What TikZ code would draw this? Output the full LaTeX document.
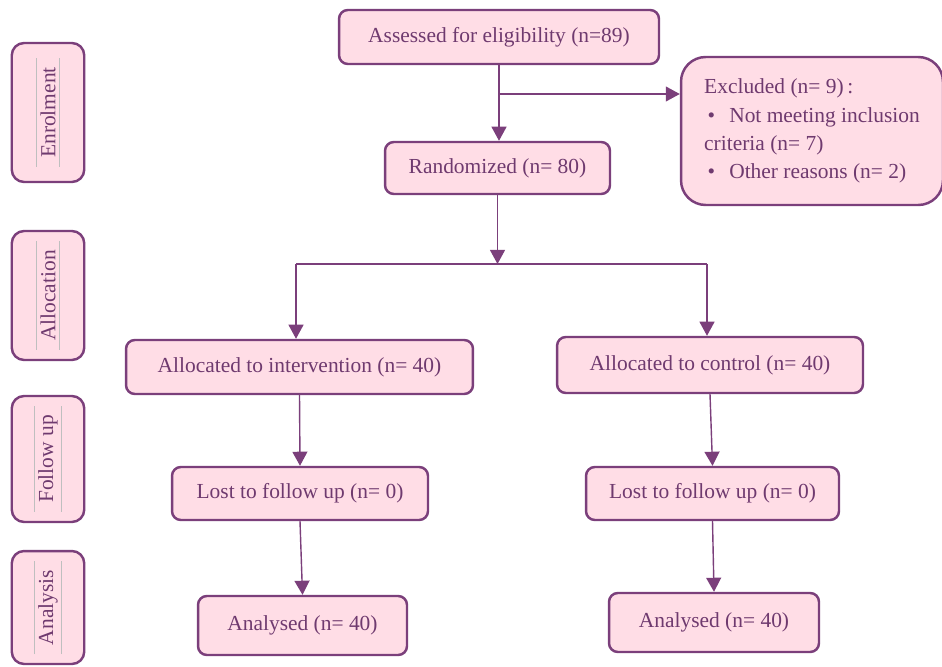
\documentclass[tikz,border=0pt]{standalone}
\usepackage{fontspec}
\setmainfont{Liberation Serif}
\usetikzlibrary{arrows.meta}
\definecolor{plum}{HTML}{7B3F7B}
\definecolor{blush}{HTML}{FFDDE6}
\definecolor{plumtext}{HTML}{6F3A6F}
\tikzset{
  stage/.style={draw=plum, line width=1.4pt, fill=blush, rounded corners=5pt,
    text=plumtext, inner sep=0pt},
  side/.style={draw=plum, line width=1.4pt, fill=blush, rounded corners=7pt},
  sidetext/.style={rotate=90, text=plumtext, inner xsep=5pt, inner ysep=2pt},
  faint/.style={draw=black!25, line width=0.3pt},
  flow/.style={draw=plum, line width=0.8pt, -{Triangle[width=8.5pt,length=8pt]}},
  plain/.style={draw=plum, line width=0.8pt}
}
\begin{document}
\begin{tikzpicture}[x=0.02cm, y=-0.02cm, font=\fontsize{12.2}{16}\selectfont]
  \useasboundingbox (0,0) rectangle (942,666);
  \foreach \name/\y/\h/\word in {enrol/112.5/2.78/Enrolment, alloc/295.5/2.58/Allocation,
      follow/459/2.52/Follow up, anal/607.5/2.26/Analysis}{
    \node[side, minimum width=1.45cm, minimum height=\h cm] (\name) at (48,\y) {};
    \node[sidetext] (\name-t) at (\name) {\word};
    \draw[faint] (\name-t.north west) -- (\name-t.north east);
    \draw[faint] (\name-t.south west) -- (\name-t.south east);
  }
  \node[stage, minimum width=6.4cm, minimum height=1.08cm] (assess) at (499,37)
    {Assessed for eligibility (n=89)};
  \node[stage, minimum width=4.5cm, minimum height=1.04cm] (rand) at (497.5,168)
    {Randomized (n= 80)};
  \node[stage, rounded corners=14pt, minimum width=5.24cm, minimum height=2.96cm,
    align=left] (excl) at (812,131)
    {Excluded (n= 9)\,:\\
     \hspace*{2pt}\textbullet\hspace{8pt}Not meeting inclusion\\
     criteria (n= 7)\\
     \hspace*{2pt}\textbullet\hspace{8pt}Other reasons (n= 2)};
  \node[stage, minimum width=6.94cm, minimum height=1.08cm] (alloci) at (299.5,367)
    {Allocated to intervention (n= 40)};
  \node[stage, minimum width=6.12cm, minimum height=1.12cm] (allocc) at (710,365)
    {Allocated to control (n= 40)};
  \node[stage, minimum width=5.12cm, minimum height=1.06cm] (losti) at (300,493.5)
    {Lost to follow up (n= 0)};
  \node[stage, minimum width=5.06cm, minimum height=1.06cm] (lostc) at (712.5,493.5)
    {Lost to follow up (n= 0)};
  \node[stage, minimum width=4.18cm, minimum height=1.18cm] (anli) at (302.5,625.5)
    {Analysed (n= 40)};
  \node[stage, minimum width=4.2cm, minimum height=1.18cm] (anlc) at (714,622.5)
    {Analysed (n= 40)};
  \coordinate (split) at (assess.south |- 0,94);
  \coordinate (fork) at (rand.south |- 0,264);
  \coordinate (forkl) at (296,264);
  \coordinate (forkr) at (707,264);
  \draw[flow] (assess.south) -- (assess.south |- rand.north);
  \draw[flow] (split) -- (split -| excl.west);
  \draw[flow] (rand.south) -- (fork);
  \draw[plain] (forkl) -- (forkr);
  \draw[flow] (forkl) -- (forkl |- alloci.north);
  \draw[flow] (forkr) -- (forkr |- allocc.north);
  \draw[flow] (alloci.south) -- (losti.north);
  \draw[flow] (allocc.south) -- (lostc.north);
  \draw[flow] (losti.south) -- (anli.north);
  \draw[flow] (lostc.south) -- (anlc.north);
\end{tikzpicture}
\end{document}
